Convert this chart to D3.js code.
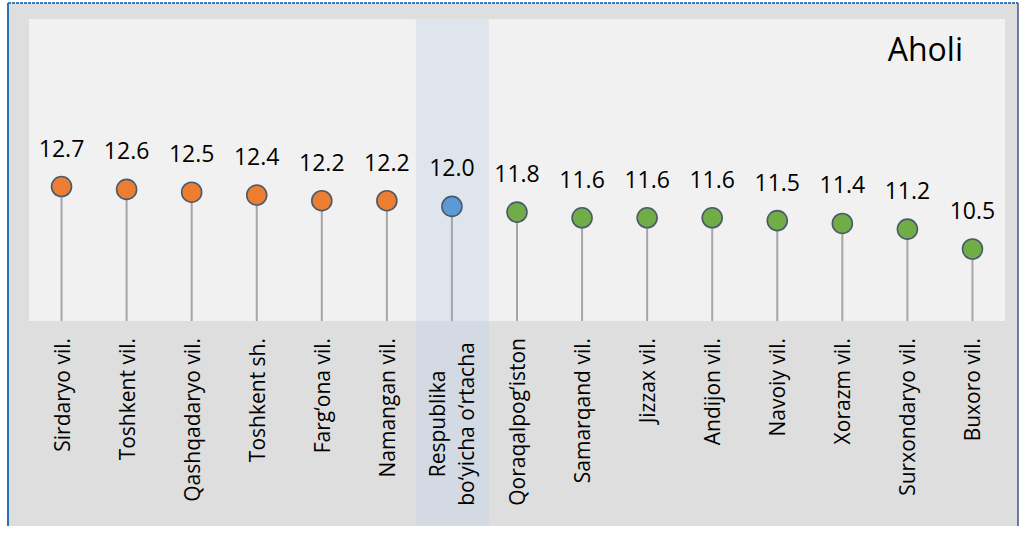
<!DOCTYPE html>
<html><head><meta charset="utf-8">
<script src="https://cdn.jsdelivr.net/npm/d3@7"></script>
<style>html,body{margin:0;padding:0;background:#fff;}svg{display:block;}</style>
</head><body>
<svg id="chart" width="1024" height="533"></svg>
<script>
const categories = ["Sirdaryo vil.","Toshkent vil.","Qashqadaryo vil.","Toshkent sh.","Farg‘ona vil.","Namangan vil.","Respublika\nbo‘yicha o‘rtacha","Qoraqalpog‘iston","Samarqand vil.","Jizzax vil.","Andijon vil.","Navoiy vil.","Xorazm vil.","Surxondaryo vil.","Buxoro vil."];
const values = [12.7,12.6,12.5,12.4,12.2,12.2,12.0,11.8,11.6,11.6,11.6,11.5,11.4,11.2,10.5];
const groups = ["above","above","above","above","above","above","average","below","below","below","below","below","below","below","below"];
const title = "Aholi";

const svg = d3.select("#chart");
const frame = {x0:8, y0:3, x1:1018, y1:526};
const plot = {x0:29, y0:19, x1:1005, y1:321};

svg.append("rect").attr("x",frame.x0).attr("y",frame.y0).attr("width",frame.x1-frame.x0).attr("height",frame.y1-frame.y0)
  .attr("fill","#dedede");
svg.append("rect").attr("x",plot.x0).attr("y",plot.y0).attr("width",plot.x1-plot.x0).attr("height",plot.y1-plot.y0)
  .attr("fill","#f1f1f1");

const x = d3.scaleBand().domain(categories).range([plot.x0, plot.x1]);
const y = d3.scaleLinear().domain([8, 18.6]).range([plot.y1-1, plot.y0]);
const color = d3.scaleOrdinal().domain(["above","average","below"]).range(["#ed7d31","#5b9bd5","#70ad47"]);

const avgIdx = groups.indexOf("average");
const bx = x(categories[avgIdx]) + x.bandwidth()/2;
svg.append("rect").attr("x",bx-36).attr("y",plot.y0).attr("width",73).attr("height",plot.y1-plot.y0)
  .attr("fill","#dfe5ec");
svg.append("rect").attr("x",bx-36).attr("y",plot.y1).attr("width",73).attr("height",frame.y1-plot.y1)
  .attr("fill","#d3dae3");

svg.append("line").attr("x1",frame.x0).attr("x2",frame.x0).attr("y1",frame.y0).attr("y2",frame.y1).attr("stroke","#2e6fb8").attr("stroke-width",2);
svg.append("line").attr("x1",frame.x0).attr("x2",frame.x1).attr("y1",frame.y0).attr("y2",frame.y0).attr("stroke","#3a78bf").attr("stroke-width",2).attr("stroke-dasharray","3,1");
svg.append("line").attr("x1",frame.x1).attr("x2",frame.x1).attr("y1",frame.y0).attr("y2",frame.y1).attr("stroke","#46548a").attr("stroke-width",1.5);

const data = categories.map((c,i)=>({c, v:values[i], g:groups[i]}));
const cx = d => x(d.c) + x.bandwidth()/2;

svg.append("g").selectAll("line").data(data).join("line")
  .attr("x1",cx).attr("x2",cx).attr("y1",d=>y(d.v)).attr("y2",plot.y1)
  .attr("stroke","#a6a6a6").attr("stroke-width",2);
svg.append("g").selectAll("circle").data(data).join("circle")
  .attr("cx",cx).attr("cy",d=>y(d.v)).attr("r",10)
  .attr("fill",d=>color(d.g)).attr("stroke","#4b5a6b").attr("stroke-width",1.6);
svg.append("g").selectAll("text").data(data).join("text")
  .attr("x",cx).attr("y",d=>y(d.v)-30)
  .attr("text-anchor","middle").attr("font-family","Open Sans, sans-serif").attr("font-size",23)
  .attr("fill","#000").text(d=>d.v.toFixed(1));

const lab = svg.append("g").attr("font-family","Open Sans, sans-serif").attr("font-size",21).attr("fill","#000");
data.forEach(d=>{
  const lines = d.c.split("\n");
  if (lines.length === 1) {
    lab.append("text").attr("transform",`translate(${cx(d)+8},338) rotate(-90)`)
      .attr("text-anchor","end").text(lines[0]);
  } else {
    const lh = 29;
    lines.forEach((ln,k)=>{
      const off = (k - (lines.length-1)/2)*lh;
      lab.append("text").attr("transform",`translate(${cx(d)+8+off},424) rotate(-90)`)
        .attr("text-anchor","middle").text(ln);
    });
  }
});

svg.append("text").attr("x",963).attr("y",61).attr("text-anchor","end")
  .attr("font-family","Open Sans, sans-serif").attr("font-size",32).attr("fill","#000").text(title);
</script>
</body></html>
